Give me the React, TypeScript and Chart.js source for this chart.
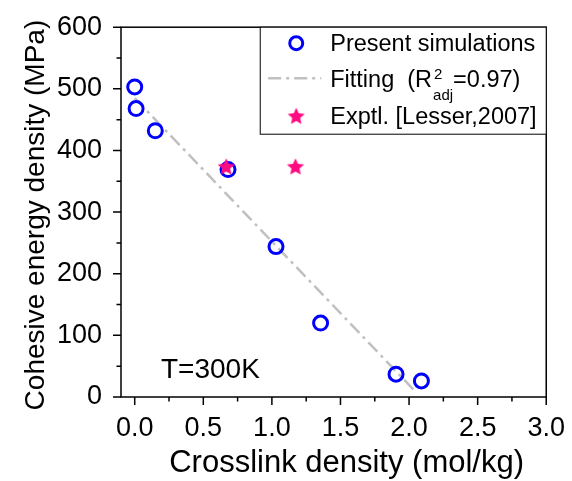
import React, { useEffect, useRef } from "react";
import { Chart, registerables } from "chart.js";

Chart.register(...registerables);

// ---- data ----
const simX = [0.0, 0.01, 0.15, 0.68, 1.03, 1.355, 1.905, 2.09];
const simY = [503, 468, 432, 369, 244, 120, 37, 26];
const fitX = [0.0, 2.05];
const fitY = [485, 8];
const expX = [0.667, 1.172];
const expY = [373.5, 373.5];

const xMajorTicks = [0, 0.5, 1.0, 1.5, 2.0, 2.5, 3.0];
const xMinorTicks = [0.25, 0.75, 1.25, 1.75, 2.25, 2.75];
const yMajorTicks = [0, 100, 200, 300, 400, 500, 600];
const yMinorTicks = [50, 150, 250, 350, 450, 550];

const seriesNames = ["Present simulations", "Fitting", "Exptl. [Lesser,2007]"];
const fitR2 = "0.97";
const annotation = "T=300K";
const xTitle = "Crosslink density (mol/kg)";
const yTitle = "Cohesive energy density (MPa)";

const FONT = 'Arial, "Liberation Sans", Helvetica, sans-serif';
const BLUE = "#0000ff";
const PINK = "#ff0a80";
const GRAY = "#c0c0c0";
const DASH = [13, 5, 3, 5];

function makeStar(color: string, outer: number, inner: number) {
  const size = Math.ceil(outer * 2 + 2);
  const c = document.createElement("canvas");
  c.width = size;
  c.height = size;
  const ctx = c.getContext("2d")!;
  ctx.fillStyle = color;
  ctx.beginPath();
  for (let i = 0; i < 10; i++) {
    const r = i % 2 === 0 ? outer : inner;
    const a = -Math.PI / 2 + (i * Math.PI) / 5;
    const x = size / 2 + r * Math.cos(a);
    const y = size / 2 + 0.5 + r * Math.sin(a);
    if (i === 0) ctx.moveTo(x, y);
    else ctx.lineTo(x, y);
  }
  ctx.closePath();
  ctx.fill();
  return c;
}

let starImg: HTMLCanvasElement | null = null;

const overlayPlugin = {
  id: "overlay",
  afterDraw(chart: any) {
    const { ctx, chartArea: a } = chart;
    const xs = chart.scales.x;
    const ys = chart.scales.y;
    ctx.save();
    // frame
    ctx.strokeStyle = "#000";
    ctx.lineWidth = 1.5;
    ctx.strokeRect(a.left, a.top, a.right - a.left, a.bottom - a.top);
    // tick marks
    ctx.beginPath();
    xMajorTicks.forEach((v) => {
      const p = xs.getPixelForValue(v);
      ctx.moveTo(p, a.bottom);
      ctx.lineTo(p, a.bottom + 8);
    });
    xMinorTicks.forEach((v) => {
      const p = xs.getPixelForValue(v);
      ctx.moveTo(p, a.bottom);
      ctx.lineTo(p, a.bottom + 4.5);
    });
    yMajorTicks.forEach((v) => {
      const p = ys.getPixelForValue(v);
      ctx.moveTo(a.left, p);
      ctx.lineTo(a.left - 8, p);
    });
    yMinorTicks.forEach((v) => {
      const p = ys.getPixelForValue(v);
      ctx.moveTo(a.left, p);
      ctx.lineTo(a.left - 4.5, p);
    });
    ctx.stroke();

    // legend box
    const lx = a.right - 286;
    const ly = a.top;
    const lh = 107;
    ctx.fillStyle = "#fff";
    ctx.fillRect(lx, ly, a.right - lx, lh);
    ctx.lineWidth = 1;
    ctx.strokeStyle = "#000";
    ctx.strokeRect(lx, ly, a.right - lx, lh);

    const symX = lx + 36;
    const txtX = lx + 70;
    // row 1: circle
    ctx.beginPath();
    ctx.arc(symX, ly + 16, 6.5, 0, Math.PI * 2);
    ctx.strokeStyle = BLUE;
    ctx.lineWidth = 3;
    ctx.stroke();
    // row 2: dash-dot line
    ctx.beginPath();
    ctx.setLineDash(DASH);
    ctx.strokeStyle = GRAY;
    ctx.lineWidth = 2.5;
    ctx.moveTo(lx + 8, ly + 51);
    ctx.lineTo(lx + 61, ly + 51);
    ctx.stroke();
    ctx.setLineDash([]);
    // row 3: star
    if (starImg) ctx.drawImage(starImg, symX - starImg.width / 2, ly + 89 - starImg.height / 2);

    ctx.fillStyle = "#000";
    ctx.textAlign = "left";
    ctx.textBaseline = "alphabetic";
    ctx.font = `23.5px ${FONT}`;
    ctx.fillText(seriesNames[0], txtX, ly + 24);
    const fitLabel = seriesNames[1] + "  (R";
    ctx.fillText(fitLabel, txtX, ly + 60);
    let cx = txtX + ctx.measureText(fitLabel).width + 1;
    ctx.font = `15px ${FONT}`;
    ctx.fillText("2", cx + 1, ly + 52);
    ctx.fillText("adj", cx, ly + 73);
    cx += ctx.measureText("adj").width;
    ctx.font = `23.5px ${FONT}`;
    ctx.fillText("=" + fitR2 + ")", cx, ly + 60);
    ctx.fillText(seriesNames[2], txtX, ly + 97);

    // annotation
    ctx.font = `28px ${FONT}`;
    ctx.fillText(annotation, a.left + 40, a.bottom - 19);

    // axis titles
    ctx.textAlign = "center";
    ctx.textBaseline = "middle";
    ctx.font = `31px ${FONT}`;
    ctx.fillText(xTitle, (a.left + a.right) / 2 + 13, a.bottom + 66);
    ctx.save();
    ctx.translate(36, (a.top + a.bottom) / 2 + 3);
    ctx.rotate(-Math.PI / 2);
    ctx.font = `28px ${FONT}`;
    ctx.fillText(yTitle, 0, 0);
    ctx.restore();
    ctx.restore();
  },
};

export default function App() {
  const ref = useRef<HTMLCanvasElement | null>(null);
  useEffect(() => {
    document.body.style.margin = "0";
    starImg = makeStar(PINK, 9, 4.2);
    const chart: any = new Chart(ref.current!, {
      type: "scatter",
      data: {
        datasets: [
          {
            label: seriesNames[2],
            data: expX.map((x, i) => ({ x, y: expY[i] })),
            pointStyle: starImg as any,
            pointRadius: 9,
            order: 0,
          },
          {
            label: seriesNames[0],
            data: simX.map((x, i) => ({ x, y: simY[i] })),
            pointStyle: "circle",
            pointRadius: 7,
            borderWidth: 3,
            borderColor: BLUE,
            backgroundColor: "rgba(0,0,0,0)",
            order: 1,
          },
          {
            label: seriesNames[1],
            type: "line" as any,
            data: fitX.map((x, i) => ({ x, y: fitY[i] })),
            borderColor: GRAY,
            borderWidth: 2.5,
            borderDash: DASH,
            pointRadius: 0,
            fill: false,
            order: 2,
          },
        ],
      },
      options: {
        responsive: false,
        animation: false,
        layout: { padding: { top: 26, right: 15, left: 0, bottom: 0 } },
        plugins: { legend: { display: false }, tooltip: { enabled: false } },
        scales: {
          x: {
            type: "linear",
            min: -0.1,
            max: 3.0,
            afterBuildTicks: (s: any) => {
              s.ticks = xMajorTicks.map((v) => ({ value: v }));
            },
            afterFit: (s: any) => {
              s.height = 84;
            },
            grid: { display: false },
            border: { display: false },
            ticks: {
              callback: (v: any) => Number(v).toFixed(1),
              font: { size: 27, family: FONT },
              color: "#000",
              padding: 7,
              maxRotation: 0,
              autoSkip: false,
            },
          },
          y: {
            type: "linear",
            min: 0,
            max: 600,
            afterBuildTicks: (s: any) => {
              s.ticks = yMajorTicks.map((v) => ({ value: v }));
            },
            afterFit: (s: any) => {
              s.width = 121;
            },
            grid: { display: false },
            border: { display: false },
            ticks: {
              font: { size: 27, family: FONT },
              color: "#000",
              padding: 11,
              autoSkip: false,
            },
          },
        },
      },
      plugins: [overlayPlugin],
    });
    return () => chart.destroy();
  }, []);
  return (
    <div style={{ position: "fixed", left: 0, top: 0, width: 572, height: 481, background: "#fff" }}>
      <canvas ref={ref} width={572} height={481} style={{ width: 572, height: 481 }} />
    </div>
  );
}
